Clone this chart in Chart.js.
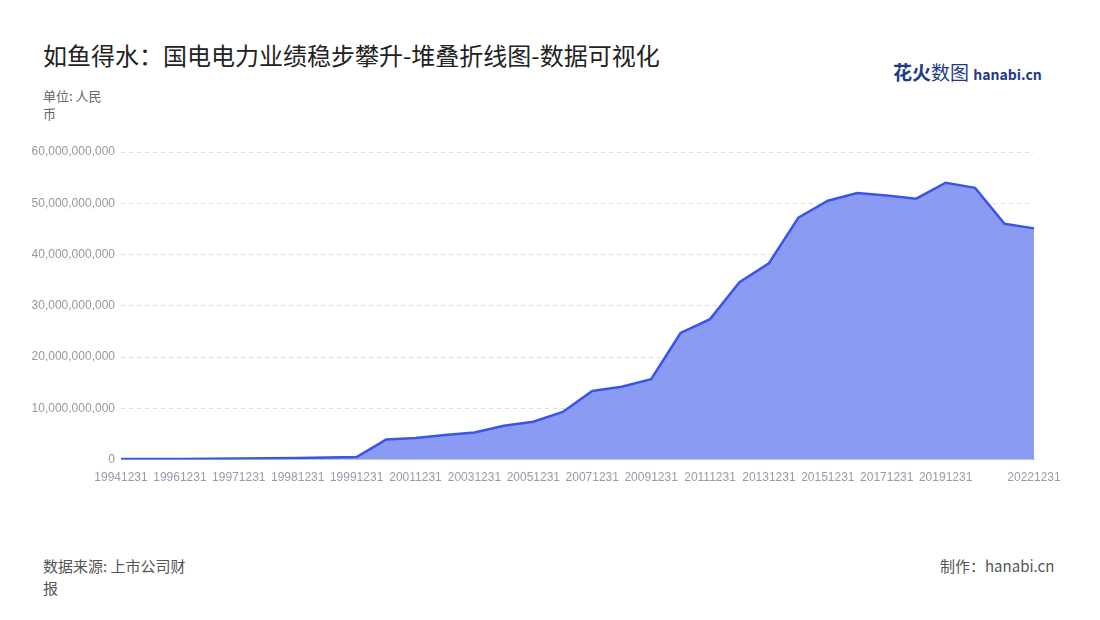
<!DOCTYPE html>
<html><head><meta charset="utf-8">
<script src="https://cdn.jsdelivr.net/npm/chart.js@4/dist/chart.umd.min.js"></script>
<style>
body{margin:0;width:1100px;height:620px;background:#fff;font-family:"Noto Sans CJK SC","Noto Sans",sans-serif;position:relative;overflow:hidden}
.t{position:absolute;white-space:nowrap}
</style></head><body>
<div class="t" style="left:43px;top:37px;font-size:24px;color:#222">如鱼得水：国电电力业绩稳步攀升-堆叠折线图-数据可视化</div>
<div class="t" style="left:893px;top:58px;font-size:19px;font-weight:bold;color:#1f3a8a">花火<span style="font-weight:normal">数图</span> <span style="font-size:14px">hanabi.cn</span></div>
<div class="t" style="left:43px;top:87px;font-size:13px;color:#666;line-height:18px">单位: 人民<br>币</div>
<div class="t" style="left:43px;top:555px;font-size:15px;color:#555;line-height:22px">数据来源: 上市公司财<br>报</div>
<div class="t" style="left:940px;top:555px;font-size:15px;color:#555">制作：hanabi.cn</div>
<div style="position:absolute;left:0;top:138px;width:1100px;height:350px"><canvas id="c"></canvas></div>
<script>
const categories=["19941231","19951231","19961231","19970630","19971231","19980630","19981231","19990630","19991231","20001231","20011231","20021231","20031231","20041231","20051231","20061231","20071231","20081231","20091231","20101231","20111231","20121231","20131231","20141231","20151231","20161231","20171231","20181231","20191231","20201231","20211231","20221231"];
const valuesB=[0.1,0.1,0.1,0.15,0.2,0.25,0.3,0.4,0.5,3.9,4.2,4.8,5.3,6.6,7.4,9.3,13.4,14.2,15.7,24.7,27.4,34.6,38.3,47.2,50.5,52.0,51.5,50.9,54.0,53.0,46.0,45.1];
const values=valuesB.map(v=>Math.round(v*1e9));
new Chart(document.getElementById('c'),{type:'line',
data:{labels:categories,datasets:[{data:values,fill:true,backgroundColor:'rgba(110,130,240,0.8)',borderColor:'#3a56e8',borderWidth:2.5,pointRadius:0,tension:0}]},
options:{responsive:true,maintainAspectRatio:false,animation:false,
layout:{padding:{left:0,right:66,top:14,bottom:0}},
plugins:{legend:{display:false},tooltip:{enabled:false}},
scales:{
x:{grid:{display:false},border:{color:'#ccc'},ticks:{autoSkip:false,maxRotation:0,color:'#99a',font:{size:12},
callback:(v,i)=>(i===31||(i%2===0&&i!==30))?categories[i]:''}},
y:{min:0,max:60000000000,afterFit:s=>{s.width=121},
grid:{color:'#ddd',drawTicks:false},border:{display:false,dash:[4,4]},
ticks:{stepSize:10000000000,color:'#999',font:{size:12},padding:6,callback:v=>v.toLocaleString('en-US')}}}}});
</script></body></html>
